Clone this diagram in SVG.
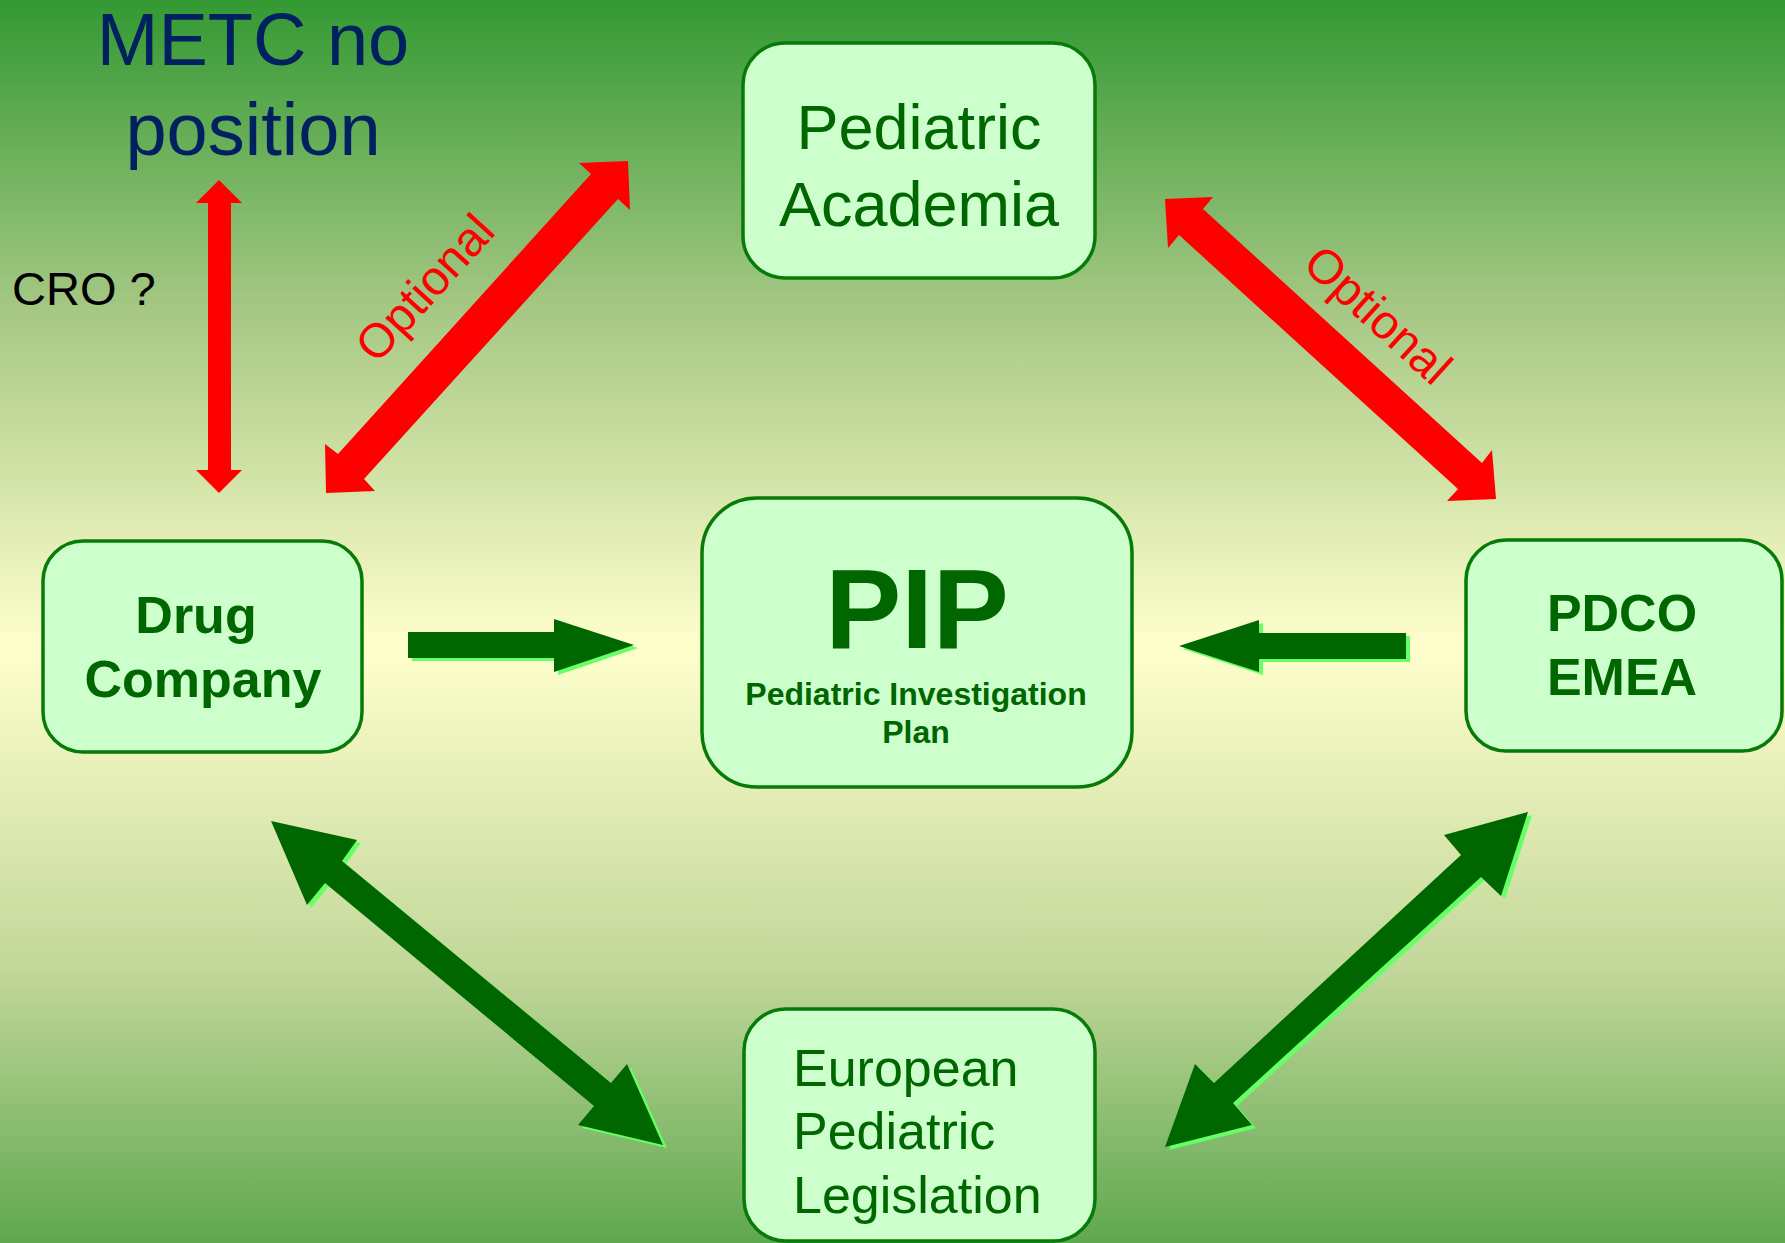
<svg xmlns="http://www.w3.org/2000/svg" width="1785" height="1243" viewBox="0 0 1785 1243">
  <defs>
    <linearGradient id="bg" x1="0" y1="0" x2="0" y2="1">
      <stop offset="0" stop-color="#339933"/>
      <stop offset="0.25" stop-color="#a6c884"/>
      <stop offset="0.52" stop-color="#ffffcc"/>
      <stop offset="0.78" stop-color="#c2d79a"/>
      <stop offset="1" stop-color="#5fa84f"/>
    </linearGradient>
    <style>
      .box { fill: #ccffcc; stroke: #077a07; stroke-width: 3.5; }
      .t { font-family: "Liberation Sans", Arial, sans-serif; fill: #006600; }
      .b { font-weight: bold; }
      .red { fill: #ff0000; }
      .g { fill: #006600; }
      .sh { fill: #66ff66; }
      .opt { font-family: "Liberation Sans", Arial, sans-serif; fill: #ff0000; font-size: 48px; text-anchor: middle; }
    </style>
  </defs>

  <rect x="0" y="0" width="1785" height="1243" fill="url(#bg)"/>

  <g id="connectors">
    <polygon class="red" points="219,180 242,203 231,203 231,470 242,470 219,493 196,470 208,470 208,203 196,203"/>
    <polygon class="red" points="326,493 375,491 364,479 618,199 630,210 628,161 579,163 591,174 338,454 325,444"/>
    <polygon class="red" points="1165,199 1213,197 1203,209 1482,463 1492,450 1496,499 1447,501 1458,489 1179,235 1168,248"/>

    <g transform="translate(4,3)">
      <polygon class="sh" points="408,632 554,632 554,619 634,645 554,672 554,658 408,658"/>
    </g>
    <polygon class="g" points="408,632 554,632 554,619 634,645 554,672 554,658 408,658"/>

    <g transform="translate(4,3)">
      <polygon class="sh" points="1406,633 1259,633 1259,620 1179,646 1259,672 1259,659 1406,659"/>
    </g>
    <polygon class="g" points="1406,633 1259,633 1259,620 1179,646 1259,672 1259,659 1406,659"/>

    <g transform="translate(4,3)">
      <polygon class="sh" points="271,821 357,840 342,861 611,1083 627,1064 663,1145 578,1125 594,1106 325,883 307,905"/>
    </g>
    <polygon class="g" points="271,821 357,840 342,861 611,1083 627,1064 663,1145 578,1125 594,1106 325,883 307,905"/>

    <g transform="translate(4,3)">
      <polygon class="sh" points="1528,812 1501,896 1481,877 1233,1103 1252,1125 1165,1147 1195,1064 1214,1083 1461,855 1444,835"/>
    </g>
    <polygon class="g" points="1528,812 1501,896 1481,877 1233,1103 1252,1125 1165,1147 1195,1064 1214,1083 1461,855 1444,835"/>

    <text class="opt" transform="translate(437,299) rotate(-47.7)">Optional</text>
    <text class="opt" transform="translate(1367,327) rotate(42.3)">Optional</text>
  </g>

  <g id="metc">
    <text font-family="Liberation Sans, Arial, sans-serif" font-size="74" fill="#002060" text-anchor="middle"><tspan x="253" y="65">METC no</tspan><tspan x="253" y="155">position</tspan></text>
  </g>

  <g id="cro">
    <text x="12" y="305" font-family="Liberation Sans, Arial, sans-serif" font-size="47" fill="#000000">CRO ?</text>
  </g>

  <g id="academia">
    <rect class="box" x="743" y="43" width="352" height="235" rx="42" ry="42"/>
    <text class="t" font-size="63" text-anchor="middle"><tspan x="919" y="149">Pediatric</tspan><tspan x="919" y="226">Academia</tspan></text>
  </g>

  <g id="drug">
    <rect class="box" x="43" y="541" width="319" height="211" rx="40" ry="40"/>
    <text class="t b" font-size="52" text-anchor="middle"><tspan x="196" y="633">Drug</tspan><tspan x="203" y="697">Company</tspan></text>
  </g>

  <g id="pip">
    <rect class="box" x="702" y="498" width="430" height="289" rx="55" ry="55"/>
    <text class="t b" font-size="114" text-anchor="middle" x="917" y="648">PIP</text>
    <text class="t b" font-size="32" text-anchor="middle"><tspan x="916" y="705">Pediatric Investigation</tspan><tspan x="916" y="743">Plan</tspan></text>
  </g>

  <g id="pdco">
    <rect class="box" x="1466" y="540" width="316" height="211" rx="40" ry="40"/>
    <text class="t b" font-size="52" text-anchor="middle"><tspan x="1622" y="631">PDCO</tspan><tspan x="1622" y="695">EMEA</tspan></text>
  </g>

  <g id="legislation">
    <rect class="box" x="744" y="1009" width="351" height="232" rx="42" ry="42"/>
    <text class="t" font-size="52"><tspan x="793" y="1086">European</tspan><tspan x="793" y="1149">Pediatric</tspan><tspan x="793" y="1213">Legislation</tspan></text>
  </g>
</svg>
